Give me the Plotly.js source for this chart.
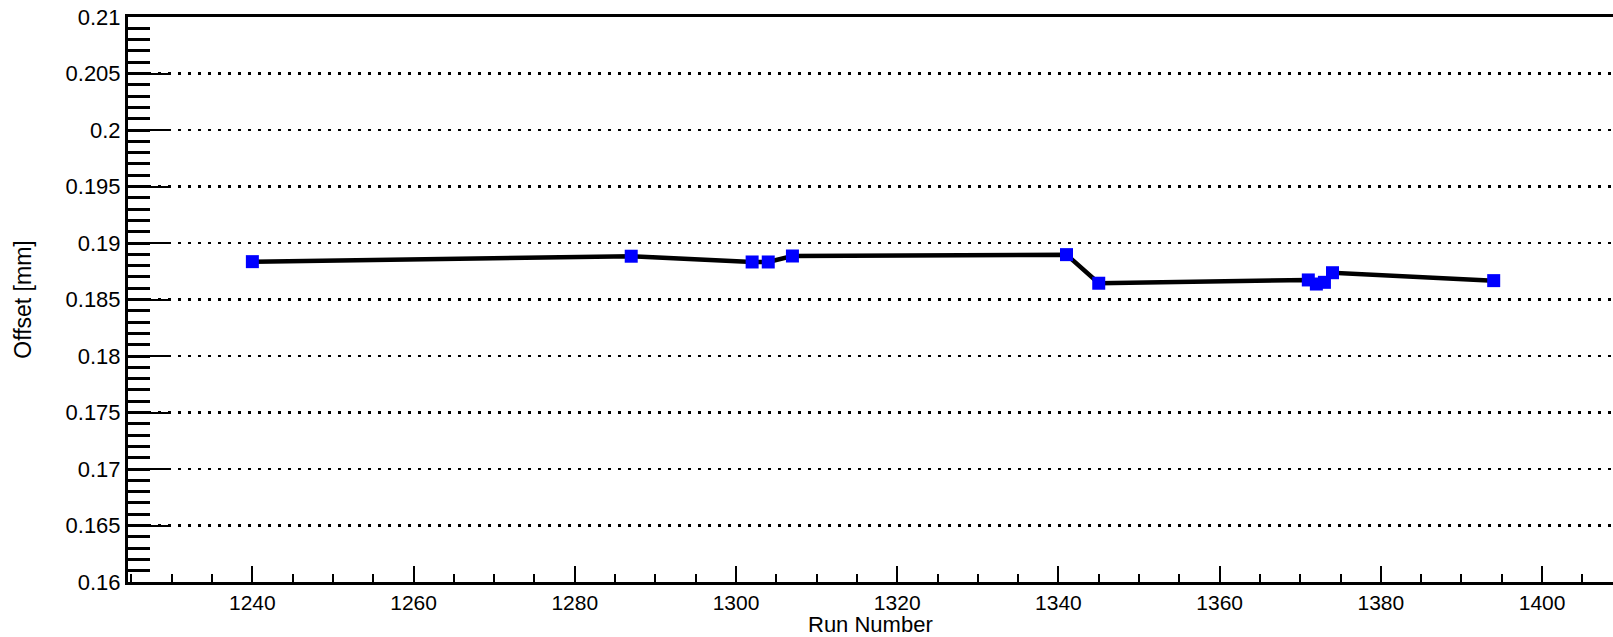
<!DOCTYPE html>
<html>
<head>
<meta charset="utf-8">
<script src="https://cdn.plot.ly/plotly-3.0.1.min.js"></script>
<style>
  html, body { margin: 0; padding: 0; background: #fff; }
  #chart { width: 1613px; height: 637px; }
</style>
</head>
<body>
<div id="chart"></div>
<script>
// Data
const runNumbers = [1240, 1287, 1302, 1304, 1307, 1341, 1345, 1371, 1372, 1373, 1374, 1394];
const offsets = [0.18835, 0.18883, 0.18832, 0.18832, 0.18885, 0.18897, 0.18644, 0.18673, 0.18637, 0.18652, 0.18737, 0.18667];

const xTickVals = [1240, 1260, 1280, 1300, 1320, 1340, 1360, 1380, 1400];
const xTickText = ["1240", "1260", "1280", "1300", "1320", "1340", "1360", "1380", "1400"];
const yTickVals = [0.16, 0.165, 0.17, 0.175, 0.18, 0.185, 0.19, 0.195, 0.2, 0.205, 0.21];
const yTickText = ["0.16", "0.165", "0.17", "0.175", "0.18", "0.185", "0.19", "0.195", "0.2", "0.205", "0.21"];
const xTitle = 'Run Number';
const yTitle = 'Offset [mm]';

const FONT = '"Liberation Sans", Arial, Helvetica, sans-serif';

const trace = {
  x: runNumbers,
  y: offsets,
  type: 'scatter',
  mode: 'lines+markers',
  line: { color: '#000000', width: 4.5 },
  marker: { symbol: 'square', size: 13, color: '#0000ff' },
  hoverinfo: 'skip'
};

const layout = {
  width: 1613,
  height: 637,
  margin: { l: 128, r: 0, t: 17, b: 55, pad: 0 },
  paper_bgcolor: '#ffffff',
  plot_bgcolor: '#ffffff',
  showlegend: false,
  font: { family: FONT, size: 22, color: '#000000' },
  xaxis: {
    range: [1224.57, 1408.8],
    tickmode: 'array',
    tickvals: xTickVals,
    ticktext: xTickText,
    ticks: 'inside',
    ticklen: 16,
    tickwidth: 2,
    tickcolor: '#000000',
    showline: true,
    linewidth: 3,
    linecolor: '#000000',
    mirror: true,
    showgrid: false,
    zeroline: false,
    tickfont: { family: FONT, size: 21, color: '#000000' },
    minor: { dtick: 5, tick0: 1225, ticks: 'inside', ticklen: 8, tickwidth: 2, tickcolor: '#000000', showgrid: false }
  },
  yaxis: {
    range: [0.16, 0.21],
    tickmode: 'array',
    tickvals: yTickVals,
    ticktext: yTickText,
    ticks: 'inside',
    ticklen: 43,
    tickwidth: 2,
    tickcolor: '#000000',
    showline: true,
    linewidth: 3,
    linecolor: '#000000',
    showgrid: true,
    gridcolor: '#000000',
    gridwidth: 2.5,
    griddash: '3px,7px',
    zeroline: false,
    tickfont: { family: FONT, size: 22, color: '#000000' },
    minor: { dtick: 0.001, tick0: 0.16, ticks: 'inside', ticklen: 22, tickwidth: 3, tickcolor: '#000000', showgrid: false },
    title: { text: yTitle, font: { family: FONT, size: 23, color: '#000000' }, standoff: 28 }
  },
  annotations: [{
    text: xTitle,
    xref: 'paper', yref: 'paper',
    x: 0.5, y: 0,
    xanchor: 'center', yanchor: 'bottom',
    yshift: -56,
    showarrow: false,
    borderpad: 0,
    font: { family: FONT, size: 22, color: '#000000' }
  }]
};

Plotly.newPlot('chart', [trace], layout, { staticPlot: true, displayModeBar: false });
</script>
</body>
</html>
